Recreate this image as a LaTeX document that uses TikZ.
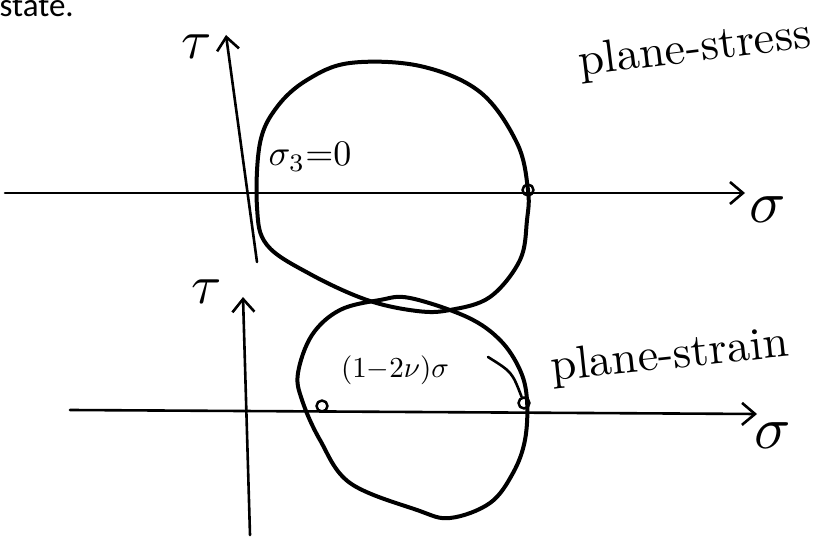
\documentclass[tikz,border=0pt]{standalone}
\usepackage{fontspec}
\newfontfamily\notefont{Carlito}
\usetikzlibrary{arrows.meta}
\tikzset{lbl/.style={draw=none, fill=none, inner sep=0pt},
  pt/.style={circle, draw, line width=2.5pt, minimum size=11pt, inner sep=0pt},
  ax/.style={line width=2.6pt},
  loop/.style={line width=4pt}}

\begin{document}
\begin{tikzpicture}[x=1pt, y=-1pt, line cap=round, line join=round,
  >={Straight Barb[length=13pt, width=22pt]}]
  \useasboundingbox (0,0) rectangle (831,537);
  \node[lbl, anchor=base west, font=\notefont, scale=3.3] (state) at (-1,17) {state.};
  % upper diagram: plane stress
  \coordinate (uL) at (5,193);
  \coordinate (uR) at (745,193);
  \coordinate (uB) at (257,262);
  \coordinate (uT) at (226,35);
  \draw[ax, ->] (uL) -- (uR);
  \draw[ax, ->] (uB) -- (uT);
  \draw[loop] plot[smooth cycle, tension=0.6] coordinates {(257,207) (260,143) (277,107)
    (307,80) (350,63) (420,66) (480,92) (517,143) (528,190) (527,220) (520,260)
    (490,297) (450,310) (417,311) (367,300) (310,274) (267,245)};
  \node[pt] (pU) at (528,190) {};
  \node[lbl, scale=5.5] (tauU) at (197,47) {$\tau$};
  \node[lbl, scale=6] (sigU) at (768,210) {$\sigma$};
  \node[lbl, scale=3.6] (s3) at (310,157) {$\sigma_3{=}0$};
  \node[lbl, scale=4.6, rotate=7] (pstress) at (695,50) {plane-stress};
  % lower diagram: plane strain
  \coordinate (lL) at (70,410);
  \coordinate (lR) at (757,414);
  \coordinate (lB) at (250,535);
  \coordinate (lT) at (243,297);
  \draw[ax, ->] (lL) -- (lR);
  \draw[ax, ->] (lB) -- (lT);
  \draw[loop] plot[smooth cycle, tension=0.6] coordinates {(298,373) (312,335) (340,310)
    (380,300) (410,298) (467,317) (500,340) (520,370) (527,400) (525,440) (513,473)
    (490,503) (450,518) (417,510) (350,483) (320,440) (302,400)};
  \node[pt] (pL) at (322,406) {};
  \node[pt] (pR) at (524,403) {};
  \node[lbl, scale=5.5] (tauL) at (207,292) {$\tau$};
  \node[lbl, scale=6] (sigL) at (773,436) {$\sigma$};
  \node[lbl, scale=2.9] (shift) at (395,370) {$(1{-}2\nu)\sigma$};
  \node[lbl, scale=4.6, rotate=6] (pstrain) at (670,357) {plane-strain};
  \coordinate (lead) at (488,357);
  \draw[ax] (lead) .. controls (512,372) .. (pR);
\end{tikzpicture}
\end{document}
